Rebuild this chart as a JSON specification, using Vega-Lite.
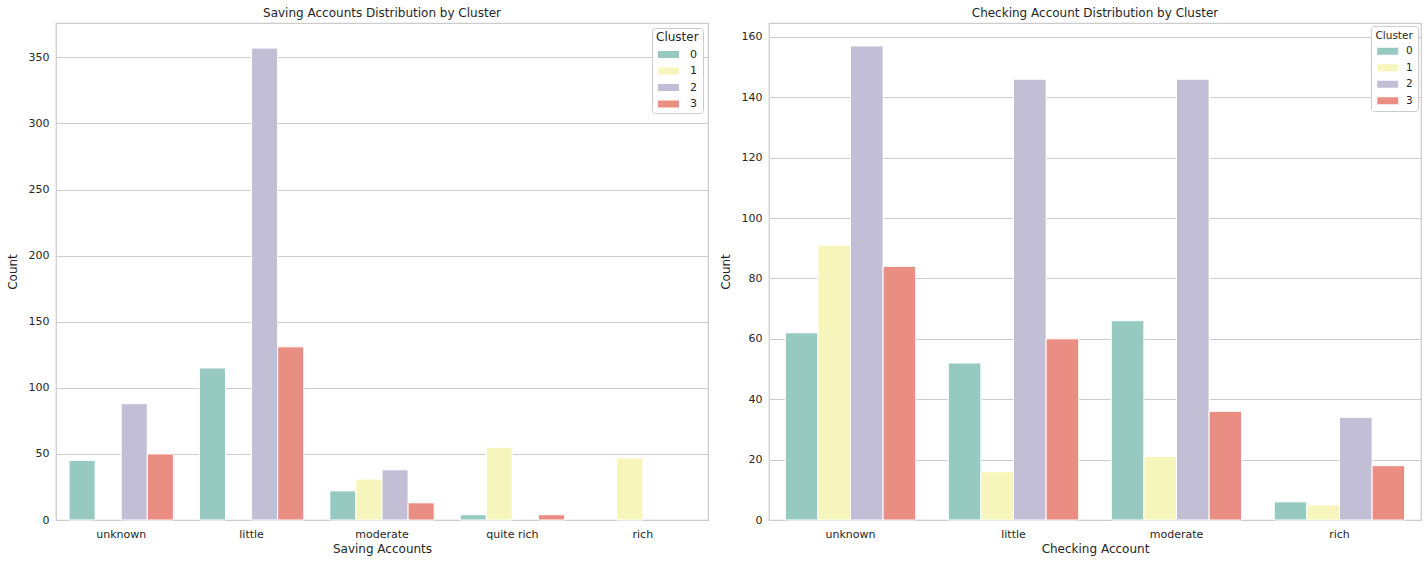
{
  "$schema": "https://vega.github.io/schema/vega-lite/v6.json",
  "padding": {"left": 5, "top": 6, "right": 5, "bottom": 5},
  "background": "white",
  "datasets": {
    "saving": [
      {"cat": "unknown", "cluster": "0", "count": 45},
      {"cat": "unknown", "cluster": "1", "count": 0},
      {"cat": "unknown", "cluster": "2", "count": 88},
      {"cat": "unknown", "cluster": "3", "count": 50},
      {"cat": "little", "cluster": "0", "count": 115},
      {"cat": "little", "cluster": "1", "count": 0},
      {"cat": "little", "cluster": "2", "count": 357},
      {"cat": "little", "cluster": "3", "count": 131},
      {"cat": "moderate", "cluster": "0", "count": 22},
      {"cat": "moderate", "cluster": "1", "count": 31},
      {"cat": "moderate", "cluster": "2", "count": 38},
      {"cat": "moderate", "cluster": "3", "count": 13},
      {"cat": "quite rich", "cluster": "0", "count": 4},
      {"cat": "quite rich", "cluster": "1", "count": 55},
      {"cat": "quite rich", "cluster": "2", "count": 0},
      {"cat": "quite rich", "cluster": "3", "count": 4},
      {"cat": "rich", "cluster": "0", "count": 0},
      {"cat": "rich", "cluster": "1", "count": 47},
      {"cat": "rich", "cluster": "2", "count": 0},
      {"cat": "rich", "cluster": "3", "count": 0}
    ],
    "checking": [
      {"cat": "unknown", "cluster": "0", "count": 62},
      {"cat": "unknown", "cluster": "1", "count": 91},
      {"cat": "unknown", "cluster": "2", "count": 157},
      {"cat": "unknown", "cluster": "3", "count": 84},
      {"cat": "little", "cluster": "0", "count": 52},
      {"cat": "little", "cluster": "1", "count": 16},
      {"cat": "little", "cluster": "2", "count": 146},
      {"cat": "little", "cluster": "3", "count": 60},
      {"cat": "moderate", "cluster": "0", "count": 66},
      {"cat": "moderate", "cluster": "1", "count": 21},
      {"cat": "moderate", "cluster": "2", "count": 146},
      {"cat": "moderate", "cluster": "3", "count": 36},
      {"cat": "rich", "cluster": "0", "count": 6},
      {"cat": "rich", "cluster": "1", "count": 5},
      {"cat": "rich", "cluster": "2", "count": 34},
      {"cat": "rich", "cluster": "3", "count": 18}
    ]
  },
  "spacing": 9,
  "hconcat": [
    {
      "title": {"text": "Saving Accounts Distribution by Cluster"},
      "width": 652,
      "height": 497,
      "data": {"name": "saving"},
      "transform": [{"filter": "datum.count > 0"}],
      "mark": {"type": "bar", "stroke": "white", "strokeWidth": 1},
      "encoding": {
        "x": {
          "field": "cat", "type": "nominal", "title": "Saving Accounts",
          "sort": ["unknown", "little", "moderate", "quite rich", "rich"],
          "scale": {"domain": ["unknown", "little", "moderate", "quite rich", "rich"], "paddingInner": 0.2, "paddingOuter": 0.1}
        },
        "xOffset": {"field": "cluster", "type": "nominal", "scale": {"domain": ["0", "1", "2", "3"]}},
        "y": {
          "field": "count", "type": "quantitative", "title": "Count",
          "scale": {"domain": [0, 376], "nice": false},
          "axis": {"values": [0, 50, 100, 150, 200, 250, 300, 350]}
        },
        "color": {
          "field": "cluster", "type": "nominal", "title": "Cluster",
          "scale": {"domain": ["0", "1", "2", "3"], "range": ["#96cac1", "#f6f6bc", "#c1bed6", "#ea8e83"]},
          "legend": {
            "orient": "top-right", "offset": 5,
            "titleFontSize": 12, "labelFontSize": 11, "rowPadding": 4.5,
            "padding": 4, "labelOffset": 23
          }
        }
      }
    },
    {
      "title": {"text": "Checking Account Distribution by Cluster"},
      "width": 652,
      "height": 497,
      "data": {"name": "checking"},
      "mark": {"type": "bar", "stroke": "white", "strokeWidth": 1},
      "encoding": {
        "x": {
          "field": "cat", "type": "nominal", "title": "Checking Account",
          "sort": ["unknown", "little", "moderate", "rich"],
          "scale": {"domain": ["unknown", "little", "moderate", "rich"], "paddingInner": 0.2, "paddingOuter": 0.1}
        },
        "xOffset": {"field": "cluster", "type": "nominal", "scale": {"domain": ["0", "1", "2", "3"]}},
        "y": {
          "field": "count", "type": "quantitative", "title": "Count",
          "scale": {"domain": [0, 164.6], "nice": false},
          "axis": {"values": [0, 20, 40, 60, 80, 100, 120, 140, 160]}
        },
        "color": {
          "field": "cluster", "type": "nominal", "title": "Cluster",
          "scale": {"domain": ["0", "1", "2", "3"], "range": ["#96cac1", "#f6f6bc", "#c1bed6", "#ea8e83"]},
          "legend": {
            "orient": "top-right", "offset": 3,
            "titleFontSize": 10.5, "labelFontSize": 10.5, "rowPadding": 5.5,
            "padding": 4.5, "labelOffset": 20
          }
        }
      }
    }
  ],
  "resolve": {"scale": {"color": "independent", "x": "independent", "xOffset": "independent", "y": "independent"}},
  "config": {
    "font": "DejaVu Sans",
    "view": {"stroke": "#cccccc", "strokeWidth": 1.25},
    "title": {"fontSize": 12, "fontWeight": "normal", "color": "#262626", "offset": 3, "anchor": "middle"},
    "axis": {
      "labelColor": "#262626", "titleColor": "#262626",
      "labelFontSize": 11, "titleFontSize": 12, "titleFontWeight": "normal",
      "ticks": false, "domain": false
    },
    "axisY": {
      "grid": true, "gridColor": "#cccccc", "gridWidth": 1,
      "labelPadding": 7, "minExtent": 30, "maxExtent": 30, "titlePadding": 7
    },
    "axisX": {"grid": false, "labelAngle": 0, "labelPadding": 8, "titlePadding": 4},
    "legend": {
      "strokeColor": "#cccccc", "fillColor": "white", "cornerRadius": 3,
      "labelColor": "#262626", "titleColor": "#262626", "titleFontWeight": "normal",
      "symbolType": "M-1,-1H5V1H-1Z", "symbolSize": 49,
      "symbolStrokeWidth": 0, "symbolOpacity": 1, "titlePadding": 5
    }
  }
}
